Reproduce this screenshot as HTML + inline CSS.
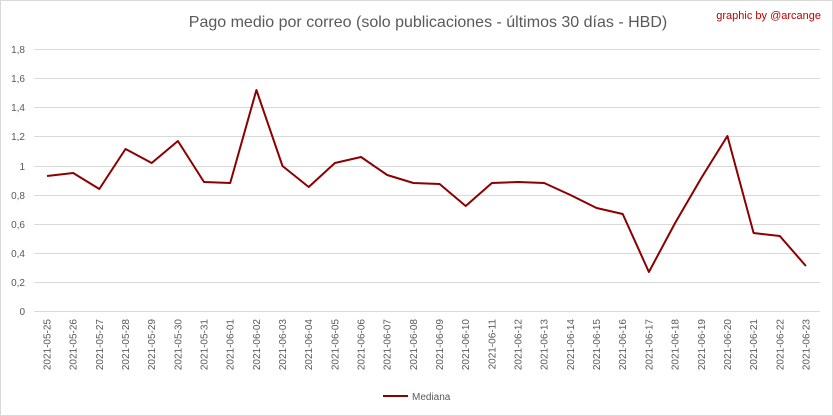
<!DOCTYPE html>
<html><head><meta charset="utf-8"><style>
body{margin:0;background:#fff;}
svg{display:block;font-family:"Liberation Sans",sans-serif;}
</style></head><body>
<svg width="833" height="416" viewBox="0 0 833 416">
<rect x="0.5" y="0.5" width="832" height="415" fill="#fff" stroke="#d9d9d9"/>
<text x="428" y="27" font-size="16" fill="#595959" text-anchor="middle">Pago medio por correo (solo publicaciones - últimos 30 días - HBD)</text>
<text x="821" y="19" font-size="11" fill="#c00000" text-anchor="end">graphic by @arcange</text>
<g stroke="#d9d9d9" stroke-width="1">
<line x1="34" x2="820" y1="49.5" y2="49.5"/>
<line x1="34" x2="820" y1="78.5" y2="78.5"/>
<line x1="34" x2="820" y1="107.5" y2="107.5"/>
<line x1="34" x2="820" y1="136.5" y2="136.5"/>
<line x1="34" x2="820" y1="166.5" y2="166.5"/>
<line x1="34" x2="820" y1="195.5" y2="195.5"/>
<line x1="34" x2="820" y1="224.5" y2="224.5"/>
<line x1="34" x2="820" y1="253.5" y2="253.5"/>
<line x1="34" x2="820" y1="282.5" y2="282.5"/>
<line x1="34" x2="820" y1="311.5" y2="311.5"/>
</g>
<g font-size="10" fill="#595959" text-anchor="end">
<text x="25" y="53">1,8</text><text x="25" y="82">1,6</text><text x="25" y="111">1,4</text>
<text x="25" y="140">1,2</text><text x="25" y="170">1</text><text x="25" y="199">0,8</text>
<text x="25" y="228">0,6</text><text x="25" y="257">0,4</text><text x="25" y="286">0,2</text>
<text x="25" y="315">0</text>
</g>
<g font-size="10" fill="#595959" text-anchor="end" id="xl"></g>
<polyline fill="none" stroke="#8b0000" stroke-width="2" stroke-linejoin="round" id="ln" points=""/>
<line x1="383" x2="408" y1="396" y2="396" stroke="#8b0000" stroke-width="2"/>
<text x="412" y="400" font-size="10" fill="#595959">Mediana</text>
</svg>
<script>
var ys=[176,173,189,149,163,141,182,183,90,166,187,163,157,175,183,184,206,183,182,183,195,208,214,272,223,178,136,233,236,266];
var pts=[],g=document.getElementById('xl'),ns='http://www.w3.org/2000/svg';
for(var i=0;i<30;i++){
 var x=47+i*26.17;pts.push(x.toFixed(1)+','+ys[i]);
 var d=new Date(Date.UTC(2021,4,25+i));
 var s=d.getUTCFullYear()+'-'+String(d.getUTCMonth()+1).padStart(2,'0')+'-'+String(d.getUTCDate()).padStart(2,'0');
 var t=document.createElementNS(ns,'text');t.setAttribute('transform','translate('+(x+3.5)+',319) rotate(-90)');t.textContent=s;g.appendChild(t);
}
document.getElementById('ln').setAttribute('points',pts.join(' '));
</script>
</body></html>
